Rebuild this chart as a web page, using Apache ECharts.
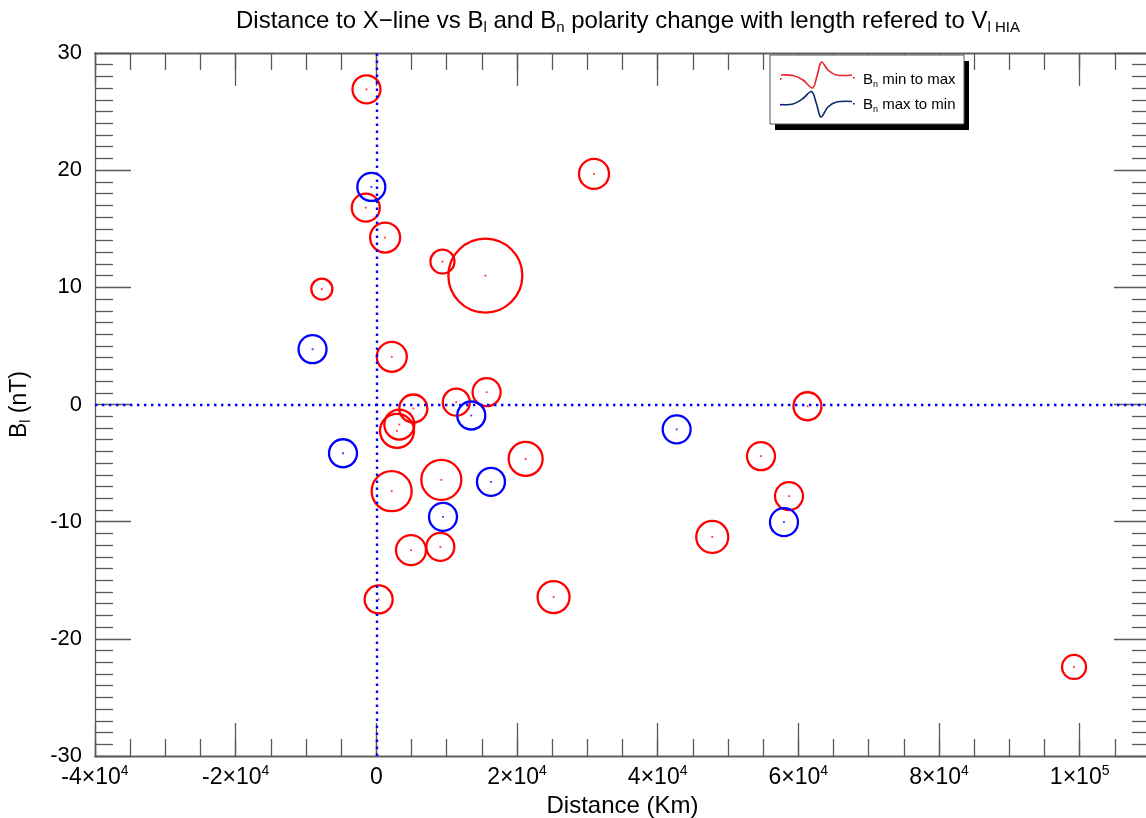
<!DOCTYPE html>
<html>
<head>
<meta charset="utf-8">
<script src="https://cdn.jsdelivr.net/npm/echarts@6/dist/echarts.min.js"></script>
<style>
  html, body { margin: 0; padding: 0; background: #ffffff; }
  #chart { width: 1146px; height: 818px; }
</style>
</head>
<body>
<div id="chart"></div>
<script>
// Crossings where B_n goes from its minimum to its maximum
const minToMaxDistance = [-1400, -1500, 1250, 9400, 15500, -7750, 2200, 30950, 99200, 61300,
  5260, 3270, 2940, 11370, 15680, 2180, 9240, 21230, 4930, 9100,
  330, 54690, 58670, 47760, 25200];
const minToMaxBl = [26.9, 16.8, 14.25, 12.2, 11.0, 9.85, 4.07, 19.68, -22.4, -0.15,
  -0.34, -1.71, -2.25, 0.2, 1.05, -7.4, -6.43, -4.64, -12.43, -12.15,
  -16.64, -4.41, -7.82, -11.3, -16.44];
const minToMaxLength = [14, 14, 15, 12, 37, 10.5, 15, 15, 12, 14,
  14, 15, 17, 13.5, 14, 20, 20, 17, 15, 14,
  14, 14, 14, 16, 16];

// Crossings where B_n goes from its maximum to its minimum
const maxToMinDistance = [-710, -9070, 13500, -4740, 16300, 9480, 42700, 57960];
const maxToMinBl = [18.57, 4.72, -0.94, -4.16, -6.6, -9.59, -2.12, -10.04];
const maxToMinLength = [14, 14, 14, 14, 14, 14, 14, 14];

// Axis ticks and labels
const xTickValues = [-40000, -20000, 0, 20000, 40000, 60000, 80000, 100000];
const xTickLabels = ['-4×10^4', '-2×10^4', '0', '2×10^4', '4×10^4', '6×10^4', '8×10^4', '1×10^5'];
const yTickValues = [-30, -20, -10, 0, 10, 20, 30];
const yTickLabels = ['-30', '-20', '-10', '0', '10', '20', '30'];

const X_MIN = -40000, X_MAX = 110000, Y_MIN = -30, Y_MAX = 30;
const FONT = '"Liberation Sans", Arial, Helvetica, sans-serif';
const AXIS_COLOR = '#5a5a5a';
const RED = '#ff0000';
const BLUE = '#0000ff';
const LENGTH_TO_PX = 2;   // circle diameter per unit of length

function pairs(xs, ys, ls) {
  return xs.map((x, i) => [x, ys[i], ls ? ls[i] : 0]);
}

function xLabel(value) {
  const i = xTickValues.indexOf(value);
  if (i < 0) return '';
  const parts = xTickLabels[i].split('^');
  return parts.length === 2 ? '{n|' + parts[0] + '}{s|' + parts[1] + '}' : '{n|' + parts[0] + '}';
}
function yLabel(value) {
  const i = yTickValues.indexOf(value);
  return i < 0 ? '' : yTickLabels[i];
}

function xAxisCfg(position, major, withLabels) {
  const cfg = {
    type: 'value', gridIndex: 0, position: position,
    min: X_MIN, max: X_MAX, interval: major ? 20000 : 5000,
    axisLine: { show: true, onZero: false, lineStyle: { color: AXIS_COLOR, width: 1.3 } },
    axisTick: { show: true, inside: true, length: major ? 33 : 17, lineStyle: { color: AXIS_COLOR, width: 1.3 } },
    axisLabel: { show: false },
    splitLine: { show: false }
  };
  if (withLabels) {
    cfg.axisLabel = {
      show: true, margin: 8, formatter: xLabel,
      rich: {
        n: { fontFamily: FONT, fontSize: 23, color: '#000', lineHeight: 27 },
        s: { fontFamily: FONT, fontSize: 14, color: '#000', lineHeight: 14, verticalAlign: 'top' }
      }
    };
    cfg.name = '{t|Distance (Km)}';
    cfg.nameLocation = 'middle';
    cfg.nameGap = 35;
    cfg.nameTextStyle = { rich: { t: { fontFamily: FONT, fontSize: 24, color: '#000' } } };
  }
  return cfg;
}

function yAxisCfg(position, withLabels) {
  const cfg = {
    type: 'value', gridIndex: 0, position: position,
    min: Y_MIN, max: Y_MAX, interval: 10,
    axisLine: { show: true, onZero: false, lineStyle: { color: AXIS_COLOR, width: 1.3 } },
    axisTick: { show: true, inside: true, length: 36, lineStyle: { color: AXIS_COLOR, width: 1.3 } },
    minorTick: { show: true, splitNumber: 10, length: 18, lineStyle: { color: AXIS_COLOR, width: 1.3 } },
    axisLabel: { show: false },
    splitLine: { show: false },
    minorSplitLine: { show: false }
  };
  if (withLabels) {
    cfg.axisLabel = { show: true, margin: 13, formatter: yLabel, fontFamily: FONT, fontSize: 22, color: '#000' };
    cfg.name = '{b|B}{s|l}{b| (nT)}';
    cfg.nameLocation = 'middle';
    cfg.nameGap = 62;
    cfg.nameTextStyle = {
      rich: {
        b: { fontFamily: FONT, fontSize: 23, color: '#000', lineHeight: 27 },
        s: { fontFamily: FONT, fontSize: 14, color: '#000', lineHeight: 14, verticalAlign: 'bottom' }
      }
    };
  }
  return cfg;
}

function ringSeries(name, color, data) {
  return {
    name: name, type: 'scatter', xAxisIndex: 0, yAxisIndex: 0,
    data: data, symbol: 'circle',
    symbolSize: d => d[2] * LENGTH_TO_PX,
    itemStyle: { color: 'rgba(0,0,0,0)', borderColor: color, borderWidth: 2.3, opacity: 1 },
    emphasis: { disabled: true },
    z: 3
  };
}
function centerSeries(color, data) {
  return {
    type: 'scatter', xAxisIndex: 0, yAxisIndex: 0, silent: true,
    data: data, symbol: 'rect', symbolSize: 1.8,
    itemStyle: { color: color, opacity: 0.8 },
    z: 4
  };
}

// Legend glyphs: a bipolar B_n signature drawn as a small smooth curve
const redGlyph = [[781, 75], [793, 75.5], [803, 80], [812.5, 88], [817, 76], [821.5, 62], [828, 70], [836.5, 75], [852, 75]];
const blueGlyph = [[781, 104.5], [793, 104], [803, 98.5], [811.5, 91.5], [816.5, 104], [821, 117], [828, 107], [836.5, 102], [852, 101.5]];

const chart = echarts.init(document.getElementById('chart'), null, { renderer: 'canvas' });

chart.setOption({
  animation: false,
  backgroundColor: '#ffffff',
  textStyle: { fontFamily: FONT },
  title: {
    text: '{a|Distance to X\u2212line vs B}{s|l}{a| and B}{s|n}{a| polarity change with length refered to V}{s|l HIA}',
    left: 623, top: 3, textAlign: 'center',
    textStyle: {
      fontWeight: 'normal',
      rich: {
        a: { fontFamily: FONT, fontSize: 24, fontWeight: 'normal', color: '#000', lineHeight: 27 },
        s: { fontFamily: FONT, fontSize: 15, fontWeight: 'normal', color: '#000', lineHeight: 15, verticalAlign: 'bottom' }
      }
    }
  },
  grid: { left: 95, right: -4, top: 53, bottom: 62, containLabel: false, outerBoundsMode: 'none' },
  xAxis: [
    xAxisCfg('bottom', true, true),
    xAxisCfg('bottom', false, false),
    xAxisCfg('top', true, false),
    xAxisCfg('top', false, false)
  ],
  yAxis: [
    yAxisCfg('left', true),
    yAxisCfg('right', false)
  ],
  series: [
    Object.assign(ringSeries('B_n min to max', RED, pairs(minToMaxDistance, minToMaxBl, minToMaxLength)), {
      markLine: {
        silent: true, symbol: 'none', label: { show: false },
        lineStyle: { color: BLUE, width: 2.4, type: [2.4, 4.6], opacity: 1 },
        emphasis: { disabled: true },
        data: [{ xAxis: 0 }, { yAxis: 0 }]
      }
    }),
    ringSeries('B_n max to min', BLUE, pairs(maxToMinDistance, maxToMinBl, maxToMinLength)),
    centerSeries(RED, pairs(minToMaxDistance, minToMaxBl)),
    centerSeries(BLUE, pairs(maxToMinDistance, maxToMinBl))
  ],
  graphic: [
    { type: 'rect', z: 100, shape: { x: 775, y: 61, width: 194, height: 69 }, style: { fill: '#000' } },
    { type: 'rect', z: 101, shape: { x: 770, y: 55, width: 194, height: 69 }, style: { fill: '#fff', stroke: '#555', lineWidth: 1 } },
    { type: 'polyline', z: 102, shape: { points: redGlyph, smooth: 0.35 }, style: { stroke: '#e8262b', lineWidth: 1.6, fill: null } },
    { type: 'polyline', z: 102, shape: { points: blueGlyph, smooth: 0.35 }, style: { stroke: '#0b2a6b', lineWidth: 1.6, fill: null } },
    { type: 'rect', z: 103, shape: { x: 780, y: 78, width: 1.6, height: 1.6 }, style: { fill: RED } },
    { type: 'rect', z: 103, shape: { x: 853, y: 77, width: 1.6, height: 1.6 }, style: { fill: RED } },
    { type: 'rect', z: 103, shape: { x: 780, y: 104, width: 1.6, height: 1.6 }, style: { fill: BLUE } },
    { type: 'rect', z: 103, shape: { x: 853, y: 103, width: 1.6, height: 1.6 }, style: { fill: BLUE } },
    {
      type: 'text', z: 103, x: 863, y: 80,
      style: {
        text: '{b|B}{s|n}{b| min to max}', verticalAlign: 'middle',
        rich: {
          b: { fontFamily: FONT, fontSize: 15, fill: '#000', lineHeight: 18 },
          s: { fontFamily: FONT, fontSize: 9, fill: '#000', lineHeight: 9, verticalAlign: 'bottom' }
        }
      }
    },
    {
      type: 'text', z: 103, x: 863, y: 105,
      style: {
        text: '{b|B}{s|n}{b| max to min}', verticalAlign: 'middle',
        rich: {
          b: { fontFamily: FONT, fontSize: 15, fill: '#000', lineHeight: 18 },
          s: { fontFamily: FONT, fontSize: 9, fill: '#000', lineHeight: 9, verticalAlign: 'bottom' }
        }
      }
    }
  ]
});
</script>
</body>
</html>
